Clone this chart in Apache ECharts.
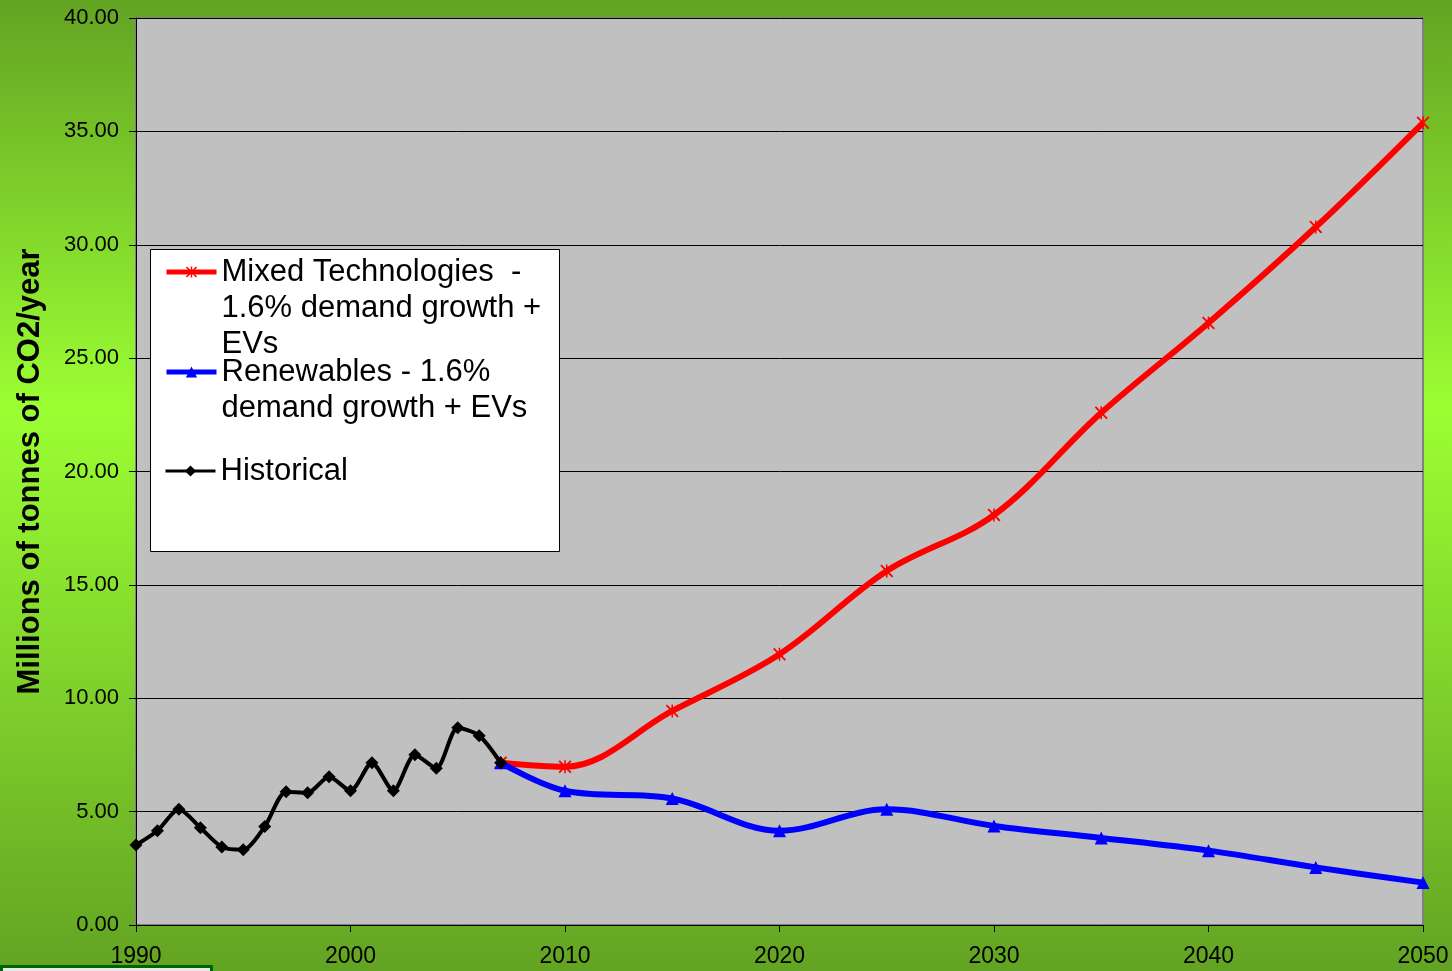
<!DOCTYPE html>
<html>
<head>
<meta charset="utf-8">
<title>CO2 emissions</title>
<script src="https://cdn.jsdelivr.net/npm/echarts@6/dist/echarts.min.js"></script>
<style>
  html, body { margin: 0; padding: 0; }
  #chart { width: 1452px; height: 971px; }
</style>
</head>
<body>
<div id="chart"></div>
<script>
// years and values
const histYears = [1990, 1991, 1992, 1993, 1994, 1995, 1996, 1997, 1998, 1999,
                   2000, 2001, 2002, 2003, 2004, 2005, 2006, 2007];
const histValues = [3.53, 4.16, 5.10, 4.29, 3.44, 3.32, 4.34, 5.88, 5.83, 6.54,
                    5.92, 7.16, 5.92, 7.51, 6.91, 8.70, 8.35, 7.16];

const scenarioYears = [2007, 2010, 2015, 2020, 2025, 2030, 2035, 2040, 2045, 2050];
const mixedValues = [7.16, 6.98, 9.44, 11.94, 15.61, 18.08, 22.59, 26.55, 30.78, 35.38];
const renewValues = [7.16, 5.92, 5.58, 4.16, 5.10, 4.37, 3.84, 3.28, 2.54, 1.87];

const yTicks = [0, 5, 10, 15, 20, 25, 30, 35, 40];
const xTicks = [1990, 2000, 2010, 2020, 2030, 2040, 2050];

const mixedName = 'Mixed Technologies  -\n1.6% demand growth +\nEVs';
const renewName = 'Renewables - 1.6%\ndemand growth + EVs';
const histName = 'Historical';

const pairs = (xs, ys) => xs.map((x, i) => [x, ys[i]]);

// asterisk marker like Excel's
const asterisk = 'path://M0,1L1,0L5,4L9,0L10,1L6,5L10,9L9,10L5,6L1,10L0,9L4,5Z M4.4,0L5.6,0L5.6,10L4.4,10Z';

const font = 'Liberation Sans, Arial, sans-serif';
const lh = 36;

const chart = echarts.init(document.getElementById('chart'));

// one legend per entry; blank lines in front keep the icon on the first text line
const legendFor = (name, lines, top, width) => ({
    data: [name],
    left: 164,
    top: top,
    orient: 'vertical',
    padding: 0,
    itemWidth: 50,
    itemHeight: 14,
    selectedMode: false,
    z: 10,
    lineStyle: { width: width },
    formatter: n => '\n'.repeat(lines - 1) + n,
    textStyle: {
        fontFamily: font,
        fontSize: 31,
        color: '#000',
        lineHeight: lh
    }
});

const option = {
    backgroundColor: {
        type: 'linear', x: 0, y: 0, x2: 0, y2: 1,
        colorStops: [
            { offset: 0, color: '#63a323' },
            { offset: 0.42, color: '#9bff33' },
            { offset: 1, color: '#63a323' }
        ]
    },
    animation: false,
    grid: { left: 136, right: 29, top: 18, bottom: 46, show: true,
            backgroundColor: '#c0c0c0', borderColor: '#808080', borderWidth: 2 },
    graphic: [
        { type: 'rect', left: 150, top: 249, z: 1,
          shape: { width: 409, height: 302 },
          style: { fill: '#fff', stroke: '#000', lineWidth: 1 } },
        { type: 'rect', left: 0, top: 965, z: 1,
          shape: { width: 210, height: 10 },
          style: { fill: '#e8e8e8', stroke: '#006400', lineWidth: 3 } }
    ],
    legend: [
        legendFor(mixedName, 3, 272 - 90, 5),
        legendFor(renewName, 2, 372 - 54, 5),
        legendFor(histName, 1, 471 - 18, 3)
    ],
    xAxis: {
        type: 'value',
        min: xTicks[0],
        max: xTicks[xTicks.length - 1],
        interval: 10,
        axisLine: { lineStyle: { color: '#000', width: 1 } },
        axisTick: { show: true, length: 7, lineStyle: { color: '#000' } },
        axisLabel: { color: '#000', fontFamily: font, fontSize: 23, margin: 20,
                     formatter: v => String(v) },
        splitLine: { show: false }
    },
    yAxis: {
        type: 'value',
        min: yTicks[0],
        max: yTicks[yTicks.length - 1],
        interval: 5,
        name: 'Millions of tonnes of CO2/year',
        nameLocation: 'middle',
        nameGap: 90,
        nameTextStyle: { color: '#000', fontFamily: font, fontSize: 31, fontWeight: 'bold' },
        axisLine: { show: true, lineStyle: { color: '#000', width: 1 } },
        axisTick: { show: true, length: 7, lineStyle: { color: '#000' } },
        axisLabel: { color: '#000', fontFamily: font, fontSize: 22, margin: 17,
                     formatter: v => v.toFixed(2) },
        splitLine: { show: true, lineStyle: { color: '#000', width: 1 } }
    },
    series: [
        {
            name: mixedName,
            type: 'line',
            smooth: 0.35,
            data: pairs(scenarioYears, mixedValues),
            symbol: asterisk,
            symbolSize: 13,
            color: '#ff0000',
            lineStyle: { color: '#ff0000', width: 6 },
            itemStyle: { color: '#ff0000' },
            z: 3
        },
        {
            name: renewName,
            type: 'line',
            smooth: 0.35,
            data: pairs(scenarioYears, renewValues),
            symbol: 'triangle',
            symbolSize: 13,
            color: '#0000ff',
            lineStyle: { color: '#0000ff', width: 6 },
            itemStyle: { color: '#0000ff' },
            z: 3
        },
        {
            name: histName,
            type: 'line',
            smooth: 0.25,
            data: pairs(histYears, histValues),
            symbol: 'diamond',
            symbolSize: 13,
            color: '#000',
            lineStyle: { color: '#000', width: 4 },
            itemStyle: { color: '#000' },
            z: 4
        }
    ]
};

chart.setOption(option);
</script>
</body>
</html>
